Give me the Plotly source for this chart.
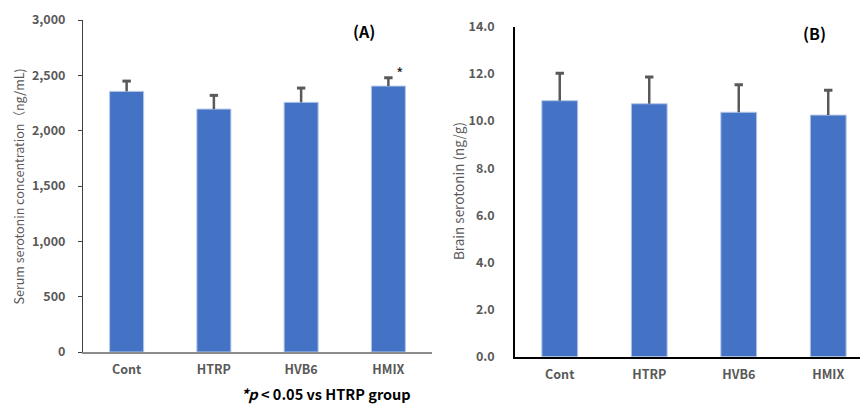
import plotly.graph_objects as go

groups = ["Cont", "HTRP", "HVB6", "HMIX"]

serum_mean = [2355, 2195, 2256, 2403]
serum_sd = [93, 124, 129, 75]

brain_mean = [10.86, 10.73, 10.37, 10.25]
brain_sd = [1.16, 1.14, 1.17, 1.05]

serum_ticks = [0, 500, 1000, 1500, 2000, 2500, 3000]
serum_ticklabels = ["0", "500", "1,000", "1,500", "2,000", "2,500", "3,000"]
brain_ticks = [0, 2, 4, 6, 8, 10, 12, 14]
brain_ticklabels = ["0.0", "2.0", "4.0", "6.0", "8.0", "10.0", "12.0", "14.0"]

BAR = "#4472C4"
EDGE = "#B4C7E7"
ERR = "#595959"
TICK = "#595959"
FONT = "Noto Sans CJK JP"

fig = go.Figure()


def add_panel(means, sds, xa, ya, width):
    fig.add_trace(go.Bar(
        x=groups, y=means, xaxis=xa, yaxis=ya, width=width,
        marker=dict(color=BAR, line=dict(color=EDGE, width=1)),
        showlegend=False, hoverinfo="skip",
    ))
    # upper-only error whiskers built from the data
    ex, ey = [], []
    for g, m, s in zip(groups, means, sds):
        ex += [g, g, None]
        ey += [m, m + s, None]
    fig.add_trace(go.Scatter(
        x=ex, y=ey, xaxis=xa, yaxis=ya, mode="lines",
        line=dict(color=ERR, width=2.5), showlegend=False, hoverinfo="skip",
    ))
    fig.add_trace(go.Scatter(
        x=groups, y=[m + s for m, s in zip(means, sds)], xaxis=xa, yaxis=ya,
        mode="markers",
        marker=dict(symbol="line-ew", size=6, line=dict(color=ERR, width=3)),
        showlegend=False, hoverinfo="skip",
    ))


add_panel(serum_mean, serum_sd, "x", "y", 0.39)
add_panel(brain_mean, brain_sd, "x2", "y2", 0.40)

tickfont = dict(family=FONT, size=12.5, color=TICK, weight="bold")

fig.update_layout(
    width=860, height=405,
    margin=dict(l=0, r=0, t=0, b=0),
    paper_bgcolor="white", plot_bgcolor="white",
    font=dict(family=FONT),
    xaxis=dict(domain=[83/860, 432/860], anchor="y", range=[-0.5, 3.5],
               showline=True, linecolor="#8c8c8c", linewidth=1.5,
               ticks="", tickfont=tickfont, ticklabelstandoff=5,
               showgrid=False, zeroline=False, automargin=False),
    yaxis=dict(domain=[(405-352)/405, (405-20)/405], anchor="x", range=[0, 3000],
               tickvals=serum_ticks, ticktext=serum_ticklabels,
               showline=True, linecolor="#404040", linewidth=1,
               ticks="outside", ticklen=4, tickcolor="#404040",
               tickfont=tickfont, ticklabelstandoff=10,
               showgrid=False, zeroline=False, automargin=False),
    xaxis2=dict(domain=[515/860, 1.0], anchor="y2", range=[-0.5, 3.355],
                showline=True, linecolor="#000000", linewidth=1.5,
                ticks="", tickfont=tickfont, ticklabelstandoff=6,
                showgrid=False, zeroline=False, automargin=False),
    yaxis2=dict(domain=[(405-356.7)/405, (405-26.7)/405], anchor="x2", range=[0, 14],
                tickvals=brain_ticks, ticktext=brain_ticklabels,
                showline=True, linecolor="#000000", linewidth=1.5,
                ticks="", tickfont=tickfont, ticklabelstandoff=16,
                showgrid=False, zeroline=False, automargin=False),
)

C = dict(xanchor="center", yanchor="middle", showarrow=False)
ann = [
    dict(text="Serum serotonin concentration（ng/mL)", xref="paper", yref="paper",
         x=18/860, y=(405-186.5)/405, textangle=-90,
         font=dict(family=FONT, size=12.5, color=TICK), **C),
    dict(text="Brain serotonin (ng/g)", xref="paper", yref="paper",
         x=458/860, y=(405-191)/405, textangle=-90,
         font=dict(family=FONT, size=13.5, color=TICK), **C),
    dict(text="<b>(A)</b>", xref="paper", yref="paper", x=364/860, y=(405-31)/405,
         font=dict(family=FONT, size=16, color="black"), **C),
    dict(text="<b>(B)</b>", xref="paper", yref="paper", x=814/860, y=(405-33)/405,
         font=dict(family=FONT, size=16, color="black"), **C),
    dict(text="*", xref="x", yref="y", x=groups[3], y=serum_mean[3] + serum_sd[3],
         xshift=11, yshift=5, xanchor="center", yanchor="middle", showarrow=False,
         font=dict(family=FONT, size=16, color="#262626")),
    dict(text="<b><i>*p</i> &lt; 0.05 vs HTRP group</b>", xref="paper", yref="paper",
         x=326/860, y=(405-393)/405,
         font=dict(family=FONT, size=14.5, color="black"), **C),
]
fig.update_layout(annotations=ann)

fig.write_html("out.html", config={"displayModeBar": False},
               post_script="document.body.style.margin='0';document.body.style.overflow='hidden';")
